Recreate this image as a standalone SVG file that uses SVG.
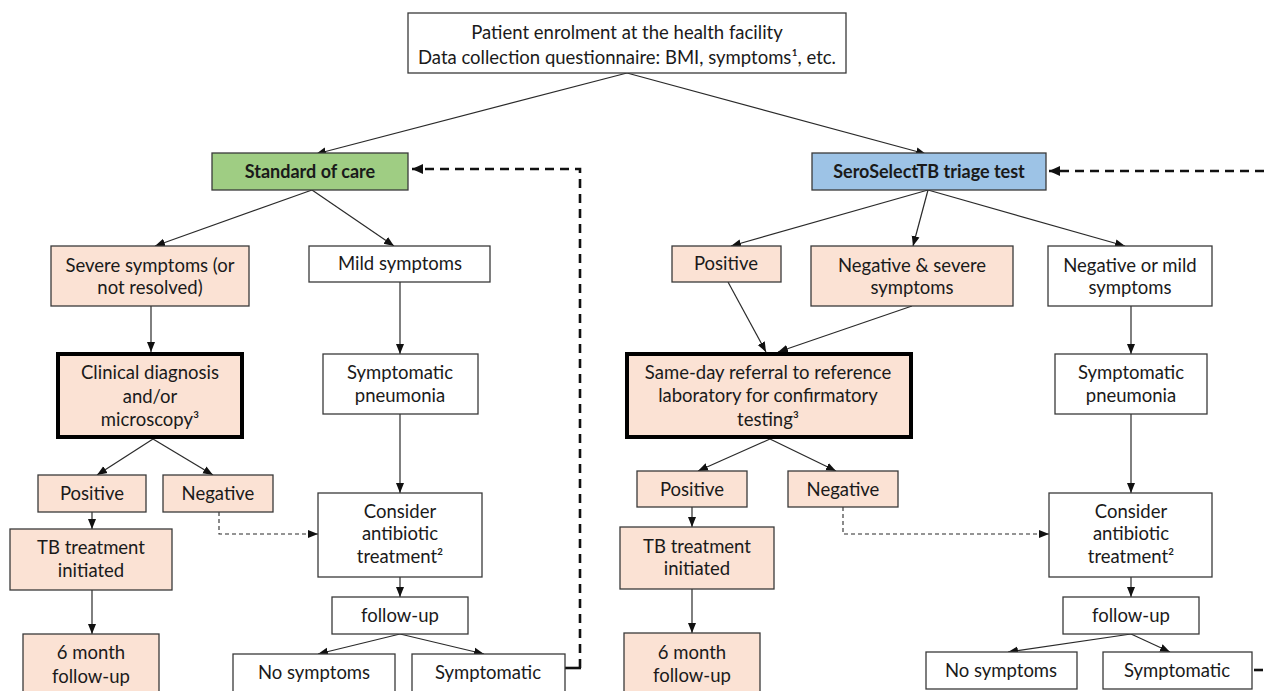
<svg xmlns="http://www.w3.org/2000/svg" width="1264" height="691" viewBox="0 0 1264 691">
<style>
.b{stroke:#3a3a3a;stroke-width:1.3;fill:#fff}
.p{fill:#fbe2d4}
.k{stroke:#000;stroke-width:4}
.t{font-family:Lato,"Liberation Sans",sans-serif;font-size:18.5px;fill:#1a1a1a;text-anchor:middle}
.bd{font-weight:bold;font-size:18px}
.c{stroke:#2a2a2a;stroke-width:1.2;fill:none;marker-end:url(#a)}
.d{stroke:#2a2a2a;stroke-width:1.1;fill:none;stroke-dasharray:4 3;marker-end:url(#a)}
.D{stroke:#111;stroke-width:2.6;fill:none;stroke-dasharray:9 6}
</style>
<defs>
<marker id="a" markerUnits="userSpaceOnUse" markerWidth="10" markerHeight="10" viewBox="0 0 10 10" refX="10" refY="5" orient="auto"><path d="M0,1 L10,5 L0,9 Z" fill="#111"/></marker>
<marker id="A" markerUnits="userSpaceOnUse" markerWidth="11" markerHeight="11" viewBox="0 0 10 10" refX="10" refY="5" orient="auto"><path d="M0,0.5 L10,5 L0,9.5 Z" fill="#111"/></marker>
</defs>
<rect width="1264" height="691" fill="#fff"/>
<g id="connectors">
<path class="c" d="M627,73 L316,154"/>
<path class="c" d="M627,73 L926,154"/>
<path class="c" d="M312,190 L155,246"/>
<path class="c" d="M312,190 L394,246"/>
<path class="c" d="M928,190 L731,246"/>
<path class="c" d="M928,190 L913,246"/>
<path class="c" d="M928,190 L1125,246"/>
<path class="c" d="M151,306 L151,352"/>
<path class="c" d="M400,282 L400,354"/>
<path class="c" d="M728,282 L766,352"/>
<path class="c" d="M912,306 L778,352"/>
<path class="c" d="M1131,306 L1131,354"/>
<path class="c" d="M153,439 L97,475"/>
<path class="c" d="M153,439 L213,475"/>
<path class="c" d="M400,414 L400,493"/>
<path class="c" d="M770,439 L698,471"/>
<path class="c" d="M770,439 L836,471"/>
<path class="c" d="M1131,414 L1131,493"/>
<path class="c" d="M92,512 L92,529"/>
<path class="c" d="M92,590 L92,634"/>
<path class="c" d="M692,507 L692,527"/>
<path class="c" d="M692,589 L692,633"/>
<path class="c" d="M400,577 L400,597"/>
<path class="c" d="M1131,577 L1131,597"/>
<path class="c" d="M400,634 L318,654"/>
<path class="c" d="M400,634 L484,654"/>
<path class="c" d="M1131,634 L1008,652"/>
<path class="c" d="M1131,634 L1170,652"/>
<path class="d" d="M219,512 V534 H318"/>
<path class="d" d="M843,507 V534 H1049"/>
<path d="M565,668 H581" stroke="#111" stroke-width="2.6" fill="none"/>
<path class="D" d="M580,668 V169 H412" marker-end="url(#A)"/>
<path class="D" d="M1264,171 H1049" marker-end="url(#A)"/>
<path class="D" d="M1254,670 H1264" stroke-dasharray="2 5" stroke-width="2"/>
</g>
<g id="enrol"><rect class="b" x="408" y="13" width="438" height="60"/><text class="t" x="627" y="39">Patient enrolment at the health facility</text><text class="t" x="627" y="64">Data collection questionnaire: BMI, symptoms¹, etc.</text></g>
<g id="soc"><rect class="b" x="212" y="153" width="196" height="37" style="fill:#9fcd83"/><text class="t bd" x="310" y="178">Standard of care</text></g>
<g id="sero"><rect class="b" x="812" y="153" width="234" height="37" style="fill:#9dc3e6"/><text class="t bd" x="929" y="178">SeroSelectTB triage test</text></g>
<g id="severe"><rect class="b p" x="51" y="246" width="198" height="60"/><text class="t" x="150" y="272">Severe symptoms (or</text><text class="t" x="150" y="294">not resolved)</text></g>
<g id="mild"><rect class="b" x="309" y="246" width="181" height="36"/><text class="t" x="400" y="270">Mild symptoms</text></g>
<g id="clinical"><rect class="b p k" x="58" y="354" width="184" height="83"/><text class="t" x="150" y="379">Clinical diagnosis</text><text class="t" x="150" y="403">and/or</text><text class="t" x="150" y="426">microscopy³</text></g>
<g id="sp-left"><rect class="b" x="323" y="354" width="155" height="60"/><text class="t" x="400" y="379">Symptomatic</text><text class="t" x="400" y="402">pneumonia</text></g>
<g id="pos-left"><rect class="b p" x="38" y="475" width="108" height="37"/><text class="t" x="92" y="500">Positive</text></g>
<g id="neg-left"><rect class="b p" x="163" y="475" width="110" height="37"/><text class="t" x="218" y="500">Negative</text></g>
<g id="tb-left"><rect class="b p" x="10" y="529" width="162" height="61"/><text class="t" x="91" y="554">TB treatment</text><text class="t" x="91" y="577">initiated</text></g>
<g id="six-left"><rect class="b p" x="23" y="634" width="136" height="70"/><text class="t" x="91" y="659">6 month</text><text class="t" x="91" y="683">follow-up</text></g>
<g id="abx-left"><rect class="b" x="318" y="493" width="164" height="84"/><text class="t" x="400" y="518">Consider</text><text class="t" x="400" y="540">antibiotic</text><text class="t" x="400" y="563">treatment²</text></g>
<g id="fu-left"><rect class="b" x="332" y="597" width="136" height="37"/><text class="t" x="400" y="622">follow-up</text></g>
<g id="nosym-left"><rect class="b" x="233" y="654" width="162" height="50"/><text class="t" x="314" y="679">No symptoms</text></g>
<g id="sym-left"><rect class="b" x="412" y="654" width="153" height="50"/><text class="t" x="488" y="679">Symptomatic</text></g>
<g id="pos-tri"><rect class="b p" x="672" y="246" width="109" height="36"/><text class="t" x="726" y="270">Positive</text></g>
<g id="negsev"><rect class="b p" x="811" y="246" width="202" height="60"/><text class="t" x="912" y="272">Negative &amp; severe</text><text class="t" x="912" y="294">symptoms</text></g>
<g id="negmild"><rect class="b" x="1048" y="246" width="164" height="60"/><text class="t" x="1130" y="272">Negative or mild</text><text class="t" x="1130" y="294">symptoms</text></g>
<g id="sameday"><rect class="b p k" x="627" y="354" width="284" height="83"/><text class="t" x="768" y="379">Same-day referral to reference</text><text class="t" x="768" y="402">laboratory for confirmatory</text><text class="t" x="768" y="426">testing³</text></g>
<g id="sp-right"><rect class="b" x="1055" y="354" width="152" height="60"/><text class="t" x="1131" y="379">Symptomatic</text><text class="t" x="1131" y="402">pneumonia</text></g>
<g id="pos-right"><rect class="b p" x="637" y="471" width="110" height="36"/><text class="t" x="692" y="496">Positive</text></g>
<g id="neg-right"><rect class="b p" x="788" y="471" width="110" height="36"/><text class="t" x="843" y="496">Negative</text></g>
<g id="tb-right"><rect class="b p" x="620" y="527" width="154" height="62"/><text class="t" x="697" y="553">TB treatment</text><text class="t" x="697" y="575">initiated</text></g>
<g id="six-right"><rect class="b p" x="624" y="633" width="136" height="70"/><text class="t" x="692" y="659">6 month</text><text class="t" x="692" y="682">follow-up</text></g>
<g id="abx-right"><rect class="b" x="1049" y="493" width="163" height="84"/><text class="t" x="1131" y="518">Consider</text><text class="t" x="1131" y="540">antibiotic</text><text class="t" x="1131" y="563">treatment²</text></g>
<g id="fu-right"><rect class="b" x="1063" y="597" width="136" height="37"/><text class="t" x="1131" y="622">follow-up</text></g>
<g id="nosym-right"><rect class="b" x="926" y="652" width="151" height="37"/><text class="t" x="1001" y="677">No symptoms</text></g>
<g id="sym-right"><rect class="b" x="1103" y="652" width="149" height="37"/><text class="t" x="1177" y="677">Symptomatic</text></g>
</svg>
